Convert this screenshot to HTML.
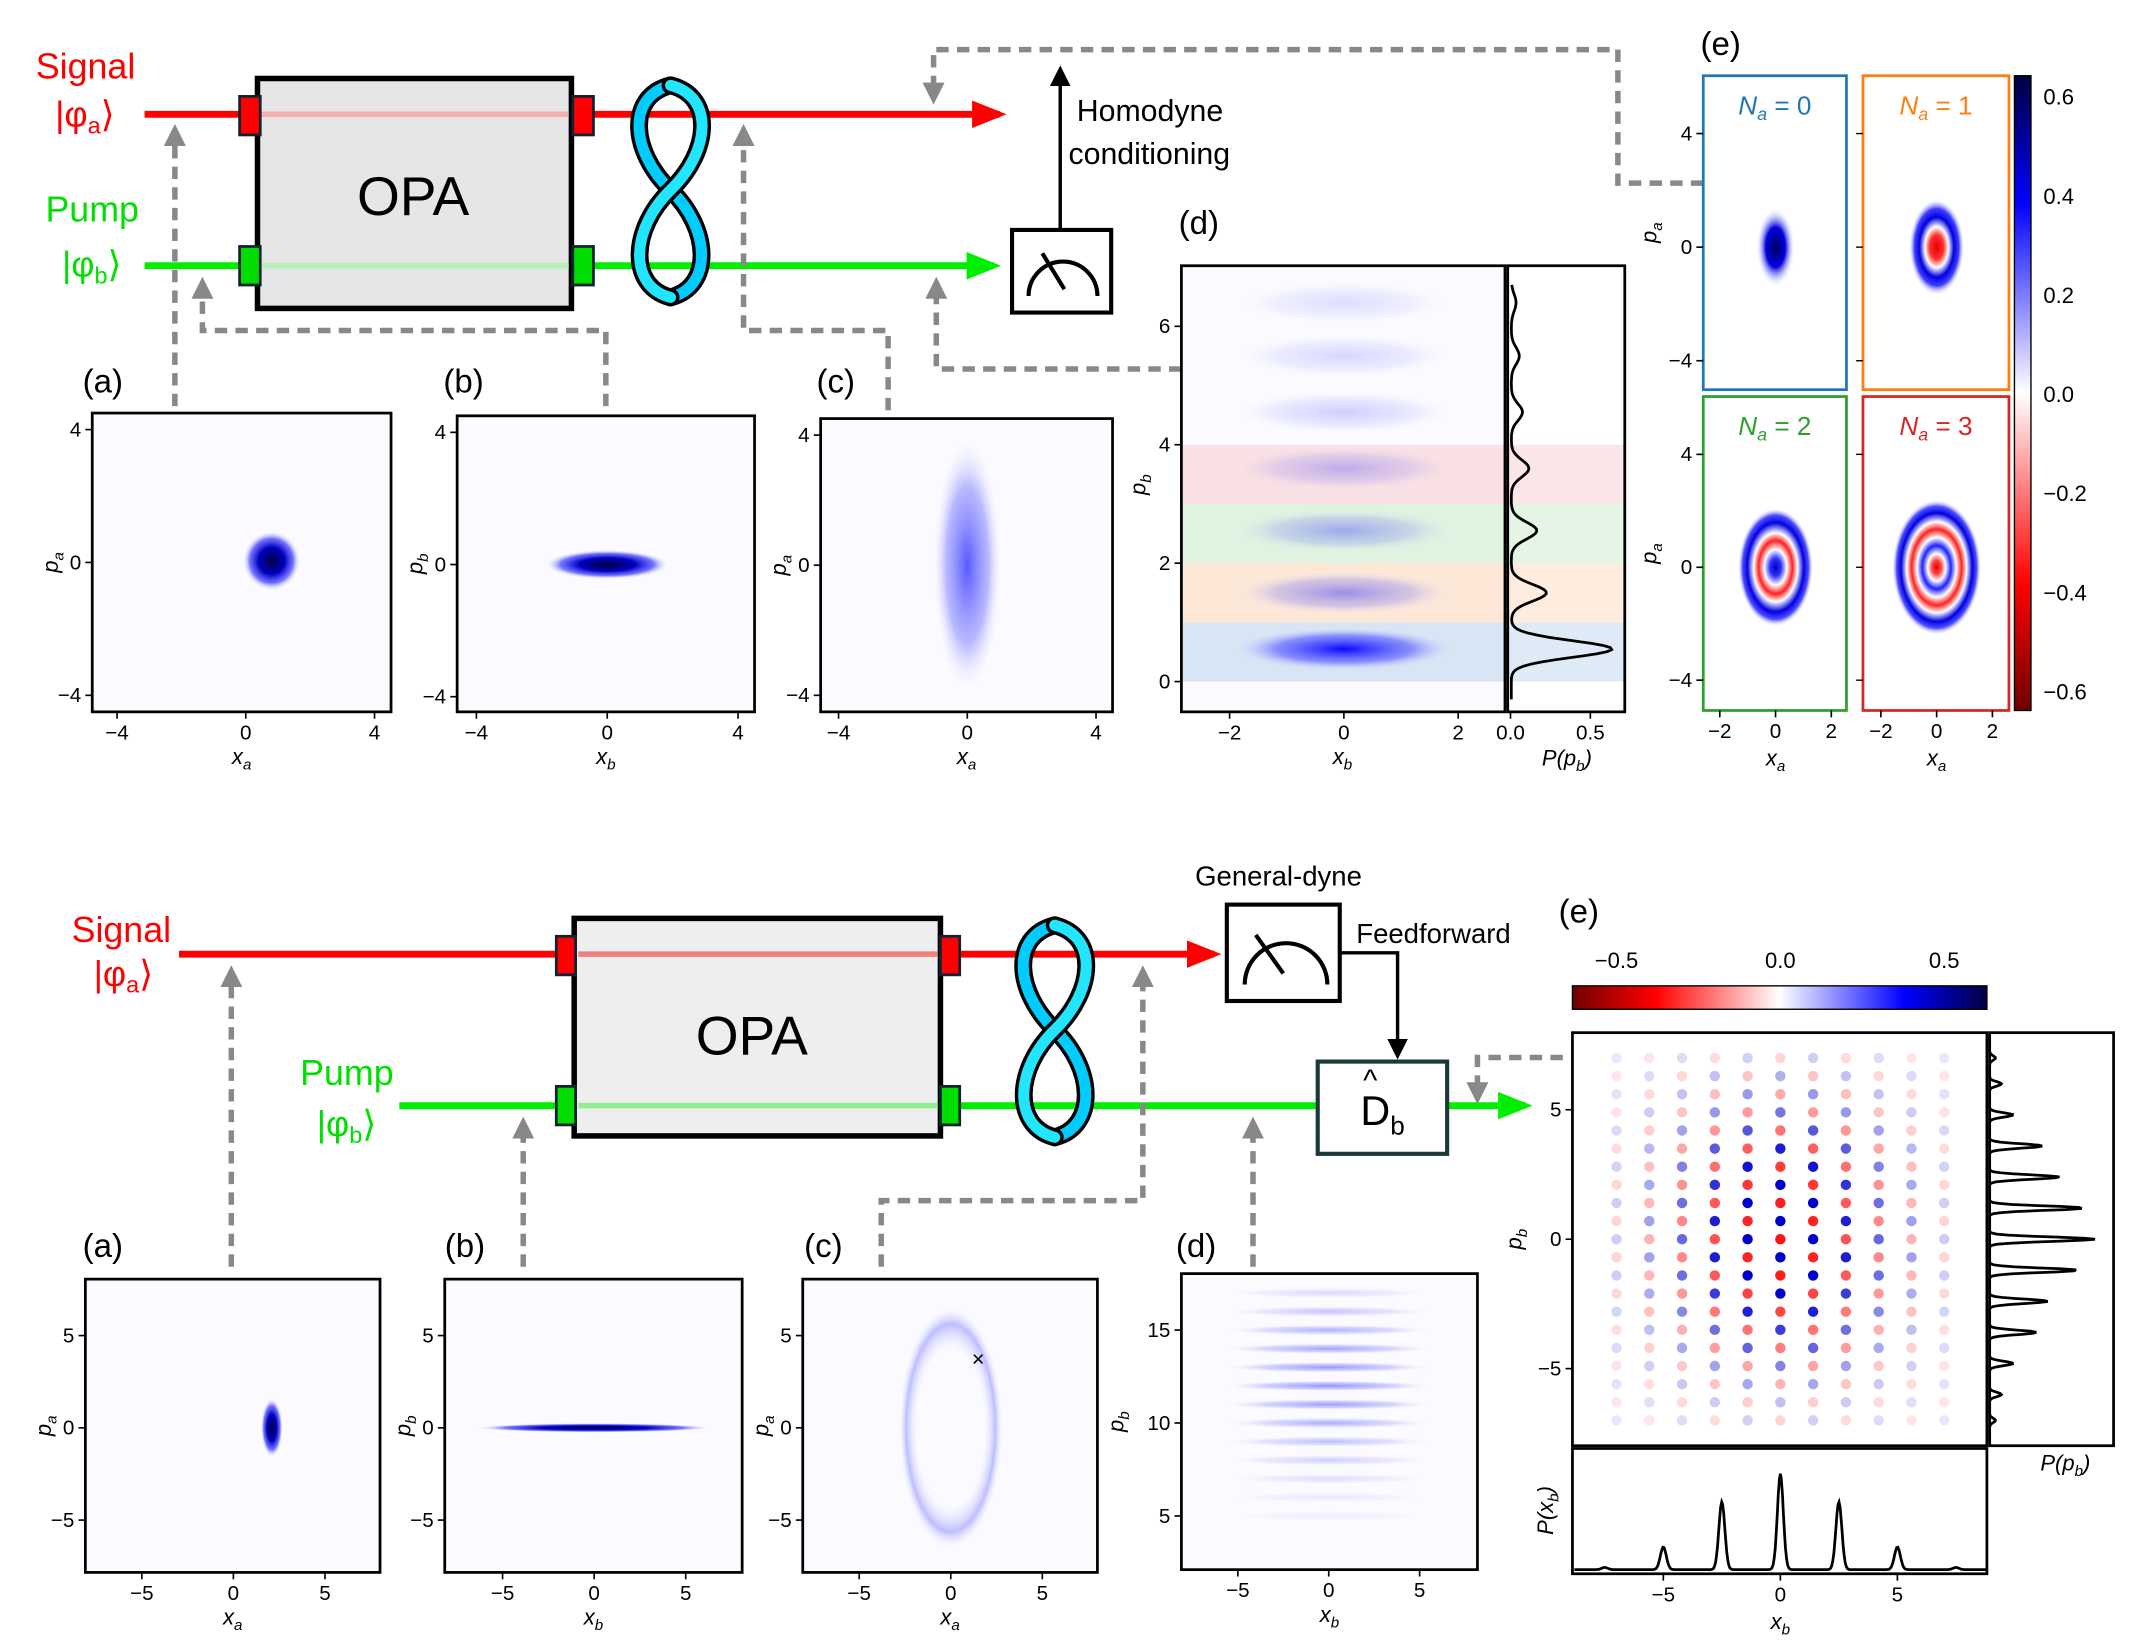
<!DOCTYPE html>
<html><head><meta charset="utf-8"><style>
html,body{margin:0;padding:0;background:#fff;}
svg{display:block;font-family:"Liberation Sans",sans-serif;}
</style></head><body>
<svg id="fig" xmlns="http://www.w3.org/2000/svg" width="2148" height="1644" viewBox="0 0 1560 1194" preserveAspectRatio="none">
<defs>
<radialGradient id="gDark"><stop offset="0" stop-color="#000040"/><stop offset="0.45" stop-color="#0000c0"/><stop offset="0.75" stop-color="#3a3aff" stop-opacity="0.7"/><stop offset="1" stop-color="#ffffff" stop-opacity="0"/></radialGradient>
<radialGradient id="gBlue"><stop offset="0" stop-color="#0000ff"/><stop offset="0.6" stop-color="#5050ff" stop-opacity="0.6"/><stop offset="1" stop-color="#ffffff" stop-opacity="0"/></radialGradient>
<radialGradient id="gRing"><stop offset="0" stop-color="#fff" stop-opacity="0"/><stop offset="0.6" stop-color="#fff" stop-opacity="0"/><stop offset="0.85" stop-color="#9a9aff" stop-opacity="0.8"/><stop offset="1" stop-color="#fff" stop-opacity="0"/></radialGradient>
<radialGradient id="gN0"><stop offset="0" stop-color="#000060"/><stop offset="0.5" stop-color="#0000e0"/><stop offset="1" stop-color="#fff" stop-opacity="0"/></radialGradient>
<radialGradient id="gN1"><stop offset="0" stop-color="#e00000"/><stop offset="0.25" stop-color="#ff3030"/><stop offset="0.42" stop-color="#ffffff"/><stop offset="0.62" stop-color="#0000e0"/><stop offset="0.8" stop-color="#4040ff"/><stop offset="1" stop-color="#fff" stop-opacity="0"/></radialGradient>
<radialGradient id="gN2"><stop offset="0" stop-color="#0000c0"/><stop offset="0.15" stop-color="#3030ff"/><stop offset="0.3" stop-color="#ffffff"/><stop offset="0.45" stop-color="#ff2020"/><stop offset="0.58" stop-color="#ffffff"/><stop offset="0.75" stop-color="#0000e0"/><stop offset="0.88" stop-color="#5050ff"/><stop offset="1" stop-color="#fff" stop-opacity="0"/></radialGradient>
<radialGradient id="gN3"><stop offset="0" stop-color="#e00000"/><stop offset="0.1" stop-color="#ff4040"/><stop offset="0.2" stop-color="#ffffff"/><stop offset="0.32" stop-color="#2020ff"/><stop offset="0.44" stop-color="#ffffff"/><stop offset="0.56" stop-color="#ff2020"/><stop offset="0.67" stop-color="#ffffff"/><stop offset="0.8" stop-color="#0000e0"/><stop offset="0.9" stop-color="#5050ff"/><stop offset="1" stop-color="#fff" stop-opacity="0"/></radialGradient>
<linearGradient id="cbTop" x1="0" y1="0" x2="0" y2="1"><stop offset="0" stop-color="#000040"/><stop offset="0.2" stop-color="#0000ff"/><stop offset="0.5" stop-color="#ffffff"/><stop offset="0.8" stop-color="#ff0000"/><stop offset="1" stop-color="#700000"/></linearGradient>
<linearGradient id="cbBot" x1="0" y1="0" x2="1" y2="0"><stop offset="0" stop-color="#700000"/><stop offset="0.2" stop-color="#ff0000"/><stop offset="0.5" stop-color="#ffffff"/><stop offset="0.8" stop-color="#0000ff"/><stop offset="1" stop-color="#000040"/></linearGradient>
<marker id="arR" markerWidth="5" markerHeight="4" refX="4" refY="2" orient="auto" markerUnits="strokeWidth"><path d="M0,0 L5,2 L0,4 z" fill="#ff0000"/></marker>
<marker id="arG" markerWidth="5" markerHeight="4" refX="4" refY="2" orient="auto" markerUnits="strokeWidth"><path d="M0,0 L5,2 L0,4 z" fill="#00ee00"/></marker>
<marker id="arK" markerWidth="6" markerHeight="6" refX="5" refY="3" orient="auto" markerUnits="strokeWidth"><path d="M0,0 L6,3 L0,6 z" fill="#000"/></marker>
<marker id="arD" markerWidth="4" markerHeight="4" refX="3" refY="2" orient="auto" markerUnits="strokeWidth"><path d="M0,0 L4,2 L0,4 z" fill="#888"/></marker>
</defs>

<!-- ===== TOP DIAGRAM ===== -->
<g>
<text x="26" y="57" font-size="26" fill="#ff0000">Signal</text>
<text x="40" y="92" font-size="26" fill="#ff0000">|φ<tspan font-size="17" dy="5">a</tspan><tspan dy="-5">⟩</tspan></text>
<text x="33" y="161" font-size="26" fill="#00e000">Pump</text>
<text x="45" y="201" font-size="26" fill="#00e000">|φ<tspan font-size="17" dy="5">b</tspan><tspan dy="-5">⟩</tspan></text>
<line x1="105" y1="83" x2="726" y2="83" stroke="#ff0000" stroke-width="5" marker-end="url(#arR)"/>
<line x1="105" y1="193" x2="722" y2="193" stroke="#00ee00" stroke-width="5" marker-end="url(#arG)"/>
<rect x="187" y="57" width="228" height="167" fill="#e6e6e6" stroke="#000" stroke-width="4"/>
<line x1="190" y1="83" x2="413" y2="83" stroke="#f4b0b0" stroke-width="4"/>
<line x1="190" y1="193" x2="413" y2="193" stroke="#b8f0b8" stroke-width="4"/>
<text x="300" y="156" font-size="40" text-anchor="middle">OPA</text>
<rect x="174" y="70" width="15" height="28" fill="#ff0000" stroke="#123" stroke-width="2"/>
<rect x="416" y="70" width="15" height="28" fill="#ff0000" stroke="#123" stroke-width="2"/>
<rect x="174" y="179" width="15" height="28" fill="#00dd00" stroke="#123" stroke-width="2"/>
<rect x="416" y="179" width="15" height="28" fill="#00dd00" stroke="#123" stroke-width="2"/>
<g fill="none" stroke-linecap="round">
<path d="M487,62 C455,70 458,110 487,138 C516,166 518,208 487,216" stroke="#000" stroke-width="13"/>
<path d="M487,62 C455,70 458,110 487,138 C516,166 518,208 487,216" stroke="#00ccff" stroke-width="8"/>
<path d="M487,62 C519,70 516,110 487,138 C458,166 456,208 487,216" stroke="#000" stroke-width="13"/>
<path d="M487,62 C519,70 516,110 487,138 C458,166 456,208 487,216" stroke="#22e6ff" stroke-width="8"/>
</g>
<rect x="735" y="167" width="72" height="60" fill="#fff" stroke="#000" stroke-width="3"/>
<path d="M747,215 A25,25 0 0 1 797,215" fill="none" stroke="#000" stroke-width="3"/>
<line x1="757" y1="184" x2="773" y2="210" stroke="#000" stroke-width="3"/>
<line x1="770" y1="167" x2="770" y2="50" stroke="#000" stroke-width="2.5" marker-end="url(#arK)"/>
<text x="782" y="88" font-size="22">Homodyne</text>
<text x="776" y="119" font-size="22">conditioning</text>
<g fill="none" stroke="#888" stroke-width="4" stroke-dasharray="9,6">
<path d="M127,295 L127,94" marker-end="url(#arD)"/>
<path d="M440,295 L440,240 L147,240 L147,205" marker-end="url(#arD)"/>
<path d="M645,298 L645,240 L540,240 L540,94" marker-end="url(#arD)"/>
<path d="M858,268 L680,268 L680,205" marker-end="url(#arD)"/>
<path d="M1237,133 L1175,133 L1175,36 L678,36 L678,72" marker-end="url(#arD)"/>
</g>
</g>

<!-- ===== BOTTOM DIAGRAM ===== -->
<g>
<text x="52" y="684" font-size="26" fill="#ff0000">Signal</text>
<text x="68" y="716" font-size="26" fill="#ff0000">|φ<tspan font-size="17" dy="5">a</tspan><tspan dy="-5">⟩</tspan></text>
<text x="218" y="788" font-size="26" fill="#00e000">Pump</text>
<text x="230" y="825" font-size="26" fill="#00e000">|φ<tspan font-size="17" dy="5">b</tspan><tspan dy="-5">⟩</tspan></text>
<line x1="130" y1="693" x2="882" y2="693" stroke="#ff0000" stroke-width="5" marker-end="url(#arR)"/>
<line x1="290" y1="803" x2="1108" y2="803" stroke="#00ee00" stroke-width="5" marker-end="url(#arG)"/>
<rect x="417" y="667" width="266" height="158" fill="#eeeeee" stroke="#000" stroke-width="4"/>
<line x1="420" y1="693" x2="681" y2="693" stroke="#f08080" stroke-width="4"/>
<line x1="420" y1="803" x2="681" y2="803" stroke="#90ee90" stroke-width="4"/>
<text x="546" y="766" font-size="40" text-anchor="middle">OPA</text>
<rect x="404" y="680" width="14" height="28" fill="#ff0000" stroke="#123" stroke-width="2"/>
<rect x="683" y="680" width="14" height="28" fill="#ff0000" stroke="#123" stroke-width="2"/>
<rect x="404" y="789" width="14" height="28" fill="#00dd00" stroke="#123" stroke-width="2"/>
<rect x="683" y="789" width="14" height="28" fill="#00dd00" stroke="#123" stroke-width="2"/>
<g fill="none" stroke-linecap="round">
<path d="M766,672 C734,680 737,720 766,748 C795,776 797,818 766,826" stroke="#000" stroke-width="13"/>
<path d="M766,672 C734,680 737,720 766,748 C795,776 797,818 766,826" stroke="#00ccff" stroke-width="8"/>
<path d="M766,672 C798,680 795,720 766,748 C737,776 735,818 766,826" stroke="#000" stroke-width="13"/>
<path d="M766,672 C798,680 795,720 766,748 C737,776 735,818 766,826" stroke="#22e6ff" stroke-width="8"/>
</g>
<text x="868" y="643" font-size="20">General-dyne</text>
<rect x="891" y="657" width="82" height="70" fill="#fff" stroke="#000" stroke-width="3"/>
<path d="M904,715 A28,28 0 0 1 964,715" fill="none" stroke="#000" stroke-width="3"/>
<line x1="912" y1="679" x2="932" y2="707" stroke="#000" stroke-width="3"/>
<text x="985" y="685" font-size="20">Feedforward</text>
<path d="M973,692 L1015,692 L1015,767" fill="none" stroke="#000" stroke-width="2.5" marker-end="url(#arK)"/>
<rect x="957" y="771" width="94" height="67" fill="#fff" stroke="#1a3a3a" stroke-width="3"/>
<text x="988" y="817" font-size="30">D<tspan font-size="19" dy="7">b</tspan></text>
<text x="990" y="792" font-size="22">^</text>
<g fill="none" stroke="#888" stroke-width="4" stroke-dasharray="9,6">
<path d="M168,920 L168,705" marker-end="url(#arD)"/>
<path d="M380,920 L380,815" marker-end="url(#arD)"/>
<path d="M640,920 L640,872 L830,872 L830,705" marker-end="url(#arD)"/>
<path d="M910,920 L910,815" marker-end="url(#arD)"/>
<path d="M1135,768 L1073,768 L1073,798" marker-end="url(#arD)"/>
</g>
</g>

<g id="charts"></g>
</svg>
<script>
// ---------- data ----------
const topTicks = [-4, 0, 4];
const botTicks = [-5, 0, 5];
const dXTicks = [-2, 0, 2];
const dPTicks = [0, 2, 4, 6];
const dProbTicks = [0.0, 0.5];
const eTopXTicks = [-2, 0, 2];
const eTopYTicks = [-4, 0, 4];
const cbTopTicks = [0.6, 0.4, 0.2, 0.0, -0.2, -0.4, -0.6];
const cbBotTicks = [-0.5, 0.0, 0.5];
const botDYTicks = [5, 10, 15];
// top panels: Gaussian centres and widths
const topACenter = [0.8, 0.05]; const topAWidth = [0.9, 0.9];
const topBCenter = [0.0, 0.0];  const topBWidth = [1.9, 0.45];
const topCCenter = [0.0, 0.0];  const topCWidth = [1.1, 4.0];
// panel (d) conditioned photon-number bands
const dPeakP = [0.55, 1.5, 2.55, 3.6, 4.55, 5.5, 6.4];
const dPeakH = [0.63, 0.22, 0.16, 0.11, 0.07, 0.05, 0.03];
const dBands = [[0, 1], [1, 2], [2, 3], [3, 4]];
const dBandColors = ['#c8dcf0', '#fde0c8', '#d4efd4', '#f8d4d8'];
// panel (e) top
const eLabels = ['0', '1', '2', '3'];
const eColors = ['#1f77b4', '#ff7f0e', '#2ca02c', '#d62728'];
const eRadii = [[0.7, 1.4], [1.0, 1.7], [1.35, 2.1], [1.6, 2.4]];
// bottom panels
const botACenter = [2.1, 0.0]; const botAWidth = [0.6, 1.6];
const botBCenter = [0.0, 0.0]; const botBWidth = [6.5, 0.25];
const botCRing = [0.0, 0.0, 2.3, 5.3];
const botCMark = [1.5, 3.7];
const botDRows = [5, 6, 7, 8, 9, 10, 11, 12, 13, 14, 15, 16, 17];
const botDRowW = [0.06, 0.08, 0.12, 0.18, 0.25, 0.32, 0.38, 0.42, 0.4, 0.36, 0.3, 0.22, 0.14];
// bottom (e) GKP-like grid
const gridX = [-7, -5.6, -4.2, -2.8, -1.4, 0, 1.4, 2.8, 4.2, 5.6, 7];
const gridXW = [0.1, 0.25, 0.45, 0.7, 0.92, 1.0, 0.92, 0.7, 0.45, 0.25, 0.1];
const gridP = [-7, -6.3, -5.6, -4.9, -4.2, -3.5, -2.8, -2.1, -1.4, -0.7, 0, 0.7, 1.4, 2.1, 2.8, 3.5, 4.2, 4.9, 5.6, 6.3, 7];
const gridPW = [0.1, 0.15, 0.25, 0.35, 0.5, 0.6, 0.75, 0.85, 0.95, 1, 1, 1, 0.95, 0.9, 0.8, 0.7, 0.55, 0.4, 0.3, 0.2, 0.1];
const pbPeaks = [-7, -6, -4.8, -3.6, -2.4, -1.2, 0, 1.2, 2.4, 3.6, 4.8, 6, 7];
const pbHeights = [0.05, 0.1, 0.2, 0.4, 0.5, 0.75, 0.9, 0.8, 0.6, 0.45, 0.2, 0.1, 0.05];
const xbPeaks = [-7.5, -5, -2.5, 0, 2.5, 5, 7.5];
const xbHeights = [0.02, 0.2, 0.6, 0.85, 0.6, 0.2, 0.02];

// ---------- helpers ----------
const NS = 'http://www.w3.org/2000/svg';
const root = document.getElementById('charts');
function mk(tag, attrs, parent) {
  const e = document.createElementNS(NS, tag);
  for (const k in attrs) e.setAttribute(k, attrs[k]);
  (parent || root).appendChild(e);
  return e;
}
function lin(d0, d1, r0, r1) { return v => r0 + (v - d0) / (d1 - d0) * (r1 - r0); }
function fmt(v, dec) { const s = dec ? Math.abs(v).toFixed(dec) : String(Math.abs(v)); return (v < 0 ? '−' : '') + s; }
function label(parent, x, y, main, sub, rot, tail) {
  const t = mk('text', {x: x, y: y, 'font-size': 16, 'font-style': 'italic', 'text-anchor': 'middle'}, parent);
  
  
  if (rot) t.setAttribute('transform', 'rotate(-90 ' + x + ' ' + y + ')');
  t.textContent = main;
  const s = mk('tspan', {'font-size': 11, dy: 4}, t);
  s.textContent = sub;
  if (tail) { const s2 = mk('tspan', {dy: -4}, t); s2.textContent = tail; }
  return t;
}
function frame(name) {
  const g = mk('g', {});
  
  
  return g;
}
function border(g, x0, y0, x1, y1, color, w) {
  const r = mk('rect', {x: x0, y: y0, width: x1 - x0, height: y1 - y0, fill: 'none', stroke: color || '#000', 'stroke-width': w || 2}, g);
  
  
}
function xticks(g, ticks, sx, y, dec, size) {
  ticks.forEach(v => {
    const l = mk('line', {x1: sx(v), x2: sx(v), y1: y, y2: y + 5, stroke: '#000', 'stroke-width': 1.2}, g);
    
    
    const t = mk('text', {x: sx(v), y: y + 20, 'font-size': size || 15, 'text-anchor': 'middle'}, g);
    
    
    t.textContent = fmt(v, dec);
  });
}
function yticks(g, ticks, sy, x, dec) {
  ticks.forEach(v => {
    const l = mk('line', {x1: x - 5, x2: x, y1: sy(v), y2: sy(v), stroke: '#000', 'stroke-width': 1.2}, g);
    
    
    const t = mk('text', {x: x - 8, y: sy(v) + 5, 'font-size': 15, 'text-anchor': 'end'}, g);
    
    
    t.textContent = fmt(v, dec);
  });
}
function panelTag(txt, x, y) {
  const t = mk('text', {x: x, y: y, 'font-size': 24});
  
  
  t.textContent = txt;
}
function bg(g, x0, y0, x1, y1) {
  const r = mk('rect', {x: x0, y: y0, width: x1 - x0, height: y1 - y0, fill: '#fbfbff'}, g);
  
  
}
function blob(g, sx, sy, c, w, fill, op) {
  const cx = sx(c[0]), cy = sy(c[1]);
  const rx = Math.abs(sx(c[0] + w[0]) - cx), ry = Math.abs(sy(c[1] + w[1]) - cy);
  const e = mk('ellipse', {cx: cx, cy: cy, rx: rx, ry: ry, fill: fill, opacity: op == null ? 1 : op}, g);
  
  
  return e;
}
function simplePanel(name, tag, tagX, tagY, box, xt, yt, sx, sy, xl, yl, yOff) {
  panelTag(tag, tagX, tagY);
  const g = frame(name);
  bg(g, box[0], box[1], box[2], box[3]);
  xticks(g, xt, sx, box[3]);
  yticks(g, yt, sy, box[0]);
  label(g, (box[0] + box[2]) / 2, box[3] + 38, xl[0], xl[1]);
  label(g, box[0] - (yOff || 25), (box[1] + box[3]) / 2, yl[0], yl[1], true);
  return g;
}

// ---------- top (a)(b)(c) ----------
(function () {
  let sx = lin(-4, 4, 85, 272), sy = lin(-4, 4, 505, 312), box = [67, 300, 284, 517];
  let g = simplePanel('top-panel-a', '(a)', 60, 285, box, topTicks, topTicks, sx, sy, ['x', 'a'], ['p', 'a']);
  blob(g, sx, sy, topACenter, topAWidth, 'url(#gDark)');
  border(g, ...box);

  sx = lin(-4, 4, 346, 536); sy = lin(-4, 4, 506, 314); box = [332, 302, 548, 517];
  g = simplePanel('top-panel-b', '(b)', 322, 285, box, topTicks, topTicks, sx, sy, ['x', 'b'], ['p', 'b']);
  blob(g, sx, sy, topBCenter, topBWidth, 'url(#gDark)');
  border(g, ...box);

  sx = lin(-4, 4, 609, 796); sy = lin(-4, 4, 505, 316); box = [596, 304, 808, 517];
  g = simplePanel('top-panel-c', '(c)', 593, 285, box, topTicks, topTicks, sx, sy, ['x', 'a'], ['p', 'a']);
  blob(g, sx, sy, topCCenter, topCWidth, 'url(#gBlue)', 0.65);
  border(g, ...box);
})();

// ---------- top (d) ----------
(function () {
  panelTag('(d)', 856, 170);
  const sx = lin(-2, 2, 893, 1059), sy = lin(0, 6, 495, 237), sP = lin(0, 0.5, 1097, 1155);
  const box = [858, 193, 1093, 517];
  const g = frame('top-panel-d');
  bg(g, ...box);
  dBands.forEach((b, i) => {
    const r = mk('rect', {x: box[0], y: sy(b[1]), width: box[2] - box[0], height: sy(b[0]) - sy(b[1]), fill: dBandColors[i], opacity: 0.7}, g);
    
    
    const r2 = mk('rect', {x: 1095, y: sy(b[1]), width: 85, height: sy(b[0]) - sy(b[1]), fill: dBandColors[i], opacity: 0.6}, g);
    
    
  });
  dPeakP.forEach((p, i) => {
    const e = blob(g, sx, sy, [0, p], [2.0, 0.38], 'url(#gBlue)', Math.min(1, dPeakH[i] * 1.4 + 0.08));
    
  });
  xticks(g, dXTicks, sx, box[3]);
  yticks(g, dPTicks, sy, box[0]);
  label(g, 975, 555, 'x', 'b');
  label(g, 832, 352, 'p', 'b', true);
  border(g, ...box);
  border(g, 1095, 193, 1180, 517);
  xticks(g, dProbTicks, sP, 517, 1);
  label(g, 1138, 556, 'P(p', 'b', false, ')');
  let d = '';
  for (let k = 0; k <= 200; k++) {
    const p = -0.3 + k * 7.0 / 200;
    let v = 0.005;
    dPeakP.forEach((c, i) => { v += dPeakH[i] * Math.exp(-Math.pow((p - c) / 0.2, 2)); });
    const y = sy(p); if (y < 193) break;
    d += (k ? 'L' : 'M') + sP(v).toFixed(1) + ',' + y.toFixed(1);
  }
  const path = mk('path', {d: d, fill: 'none', stroke: '#000', 'stroke-width': 2}, g);
  
  
})();

// ---------- top (e) ----------
(function () {
  panelTag('(e)', 1235, 40);
  const boxes = [[1237, 55, 1341, 283], [1353, 55, 1459, 283], [1237, 288, 1341, 516], [1353, 288, 1459, 516]];
  const sxs = [lin(-2, 2, 1249, 1330), lin(-2, 2, 1366, 1447)];
  const sys = [lin(-4, 4, 262, 97), lin(-4, 4, 494, 330)];
  boxes.forEach((b, i) => {
    const g = frame('fock-panel-' + i);
    const sx = sxs[i % 2], sy = sys[Math.floor(i / 2)];
    const e = blob(g, sx, sy, [0, 0], eRadii[i], 'url(#gN' + i + ')');
    
    border(g, b[0], b[1], b[2], b[3], eColors[i], 2);
    const t = mk('text', {x: (b[0] + b[2]) / 2, y: b[1] + 28, 'font-size': 19, fill: eColors[i], 'text-anchor': 'middle', 'font-style': 'italic'}, g);
    
    
    t.textContent = 'N';
    const s = mk('tspan', {'font-size': 13, dy: 4}, t); s.textContent = 'a';
    const s2 = mk('tspan', {dy: -4, 'font-style': 'normal'}, t); s2.textContent = ' = ' + eLabels[i];
    if (i % 2 === 0) { yticks(g, eTopYTicks, sy, b[0]); label(g, 1203, (b[1] + b[3]) / 2, 'p', 'a', true); }
    else { eTopYTicks.forEach(v => { const l = mk('line', {x1: b[0] - 5, x2: b[0], y1: sy(v), y2: sy(v), stroke: '#000'}, g);   }); }
    if (i >= 2) { xticks(g, eTopXTicks, sx, b[3]); label(g, sx(0), 556, 'x', 'a'); }
  });
  const cb = mk('rect', {x: 1463, y: 55, width: 12, height: 461, fill: 'url(#cbTop)', stroke: '#000', 'stroke-width': 1});
  
  
  const sc = lin(0.6, -0.6, 70, 502);
  cbTopTicks.forEach(v => {
    const t = mk('text', {x: 1484, y: sc(v) + 6, 'font-size': 16});
    
    
    t.textContent = fmt(v, 1);
  });
})();

// ---------- bottom (a)(b)(c)(d) ----------
(function () {
  let sy = lin(-5, 5, 1104, 970);
  let sx = lin(-5, 5, 103, 236), box = [62, 929, 276, 1142];
  let g = simplePanel('bottom-panel-a', '(a)', 60, 913, box, botTicks, botTicks, sx, sy, ['x', 'a'], ['p', 'a']);
  blob(g, sx, sy, botACenter, botAWidth, 'url(#gDark)');
  border(g, ...box);

  sx = lin(-5, 5, 365, 498); box = [323, 929, 539, 1142];
  g = simplePanel('bottom-panel-b', '(b)', 323, 913, box, botTicks, botTicks, sx, sy, ['x', 'b'], ['p', 'b']);
  blob(g, sx, sy, botBCenter, botBWidth, 'url(#gDark)');
  border(g, ...box);

  sx = lin(-5, 5, 624, 757); box = [583, 929, 797, 1142];
  g = simplePanel('bottom-panel-c', '(c)', 584, 913, box, botTicks, botTicks, sx, sy, ['x', 'a'], ['p', 'a']);
  const ring = blob(g, sx, sy, [botCRing[0], botCRing[1]], [botCRing[2] * 1.25, botCRing[3] * 1.25], 'url(#gRing)', 0.8);
  
  const m = mk('text', {x: sx(botCMark[0]), y: sy(botCMark[1]) + 5, 'font-size': 16, 'text-anchor': 'middle'}, g);
  
  
  m.textContent = '×';
  border(g, ...box);

  sx = lin(-5, 5, 899, 1031); const sy2 = lin(5, 15, 1101, 966); box = [858, 925, 1073, 1140];
  g = simplePanel('bottom-panel-d', '(d)', 854, 913, box, botTicks, botDYTicks, sx, sy2, ['x', 'b'], ['p', 'b'], 42);
  botDRows.forEach((p, i) => {
    const e = blob(g, sx, sy2, [0, p], [6.0, 0.3], 'url(#gBlue)', botDRowW[i]);
    
  });
  border(g, ...box);
})();

// ---------- bottom (e) ----------
(function () {
  panelTag('(e)', 1132, 670);
  const sx = lin(-5, 5, 1208, 1378), sy = lin(-5, 5, 994, 806), sc = lin(-0.5, 0.5, 1174, 1412);
  const g = frame('bottom-panel-e');
  const cb = mk('rect', {x: 1142, y: 716, width: 301, height: 17, fill: 'url(#cbBot)', stroke: '#000', 'stroke-width': 1}, g);
  
  
  cbBotTicks.forEach(v => {
    const t = mk('text', {x: sc(v), y: 703, 'font-size': 16, 'text-anchor': 'middle'}, g);
    
    
    t.textContent = fmt(v, 1);
  });
  const box = [1142, 750, 1443, 1050];
  gridX.forEach((x, i) => {
    gridP.forEach((p, j) => {
      const w = gridXW[i] * gridPW[j];
      const neg = (i + j) % 2 === 1;
      const c = mk('circle', {cx: sx(x), cy: sy(p), r: 3.8, fill: neg ? '#ff0000' : '#0000cc', opacity: Math.min(1, (neg ? 0.85 : 1.15) * w + 0.08)}, g);
      
      
    });
  });
  yticks(g, botTicks, sy, box[0]);
  label(g, 1105, 900, 'p', 'b', true);
  border(g, ...box);
  border(g, 1445, 750, 1535, 1050);
  let d = '';
  for (let k = 0; k <= 400; k++) {
    const p = -7.9 + k * 15.8 / 400;
    let v = 0;
    pbPeaks.forEach((c, i) => { v += pbHeights[i] * Math.exp(-Math.pow((p - c) / 0.12, 2)); });
    d += (k ? 'L' : 'M') + (1445 + v * 85).toFixed(1) + ',' + sy(p).toFixed(1);
  }
  const pr = mk('path', {d: d, fill: 'none', stroke: '#000', 'stroke-width': 2}, g);
  
  
  label(g, 1500, 1068, 'P(p', 'b', false, ')');
  border(g, 1142, 1052, 1443, 1143);
  d = '';
  for (let k = 0; k <= 400; k++) {
    const x = -8.8 + k * 17.6 / 400;
    let v = 0;
    xbPeaks.forEach((c, i) => { v += xbHeights[i] * Math.exp(-Math.pow((x - c) / 0.18, 2)); });
    d += (k ? 'L' : 'M') + sx(x).toFixed(1) + ',' + (1140 - v * 82).toFixed(1);
  }
  const px = mk('path', {d: d, fill: 'none', stroke: '#000', 'stroke-width': 2}, g);
  
  
  xticks(g, botTicks, sx, 1143);
  label(g, 1293, 1183, 'x', 'b');
  label(g, 1128, 1097, 'P(x', 'b', true, ')');
})();
</script>
</body></html>
